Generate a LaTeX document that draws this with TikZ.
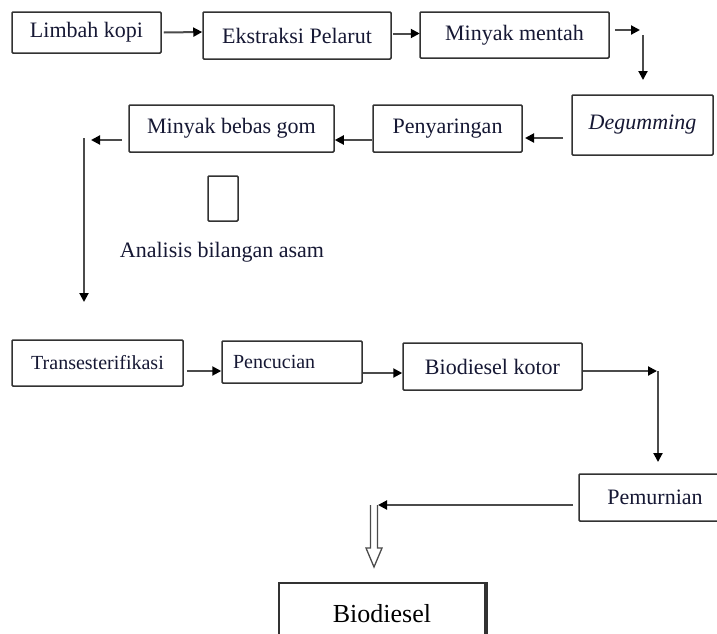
\documentclass[tikz,border=0pt]{standalone}
\usepackage{fontspec}
\setmainfont{Liberation Serif}
\usetikzlibrary{arrows.meta}
\definecolor{txt}{RGB}{22,24,52}
\definecolor{edge}{RGB}{50,50,50}
\definecolor{conn}{RGB}{75,75,75}
\begin{document}
\begin{tikzpicture}[x=1pt,y=-1pt,
  box/.style={draw=edge, line width=1.5pt, rounded corners=1pt, inner sep=0pt,
    text=txt, font=\fontsize{22}{24}\selectfont, fill=white},
  conn/.style={draw=conn, line width=2pt,
    -{Triangle[length=9pt,width=9pt,color=black,fill=black]}}]
\useasboundingbox[fill=white] (0,0) rectangle (717,633);
% row 1
\node[box, minimum width=149pt, minimum height=41pt] (limbah) at (86.5,32.5) {Limbah kopi};
\node[box, minimum width=188pt, minimum height=47pt] (ekstraksi) at (297,35.5) {Ekstraksi Pelarut};
\node[box, minimum width=189pt, minimum height=46pt] (mentah) at (514.5,35) {Minyak mentah};
\node[box, minimum width=141pt, minimum height=60pt, font=\fontsize{22}{24}\selectfont\itshape] (degum) at (642.5,125) {Degumming};
% row 2
\node[box, minimum width=149pt, minimum height=47pt] (saring) at (447.5,128.5) {Penyaringan};
\node[box, minimum width=205pt, minimum height=47pt] (bebas) at (231.5,128.5) {Minyak bebas gom};
\node[box, minimum width=30pt, minimum height=45pt] (small) at (223,198.5) {};
\node[text=txt, font=\fontsize{22}{24}\selectfont, inner sep=0pt] (analisis) at (222,252) {Analisis bilangan asam};
% row 3
\node[box, minimum width=171pt, minimum height=46pt, font=\fontsize{20}{22}\selectfont] (trans) at (97.5,363) {Transesterifikasi};
\node[box, minimum width=140pt, minimum height=42pt, inner xsep=11pt, text width=118pt, align=left, font=\fontsize{20}{22}\selectfont] (cuci) at (292,362) {Pencucian};
\node[box, minimum width=179pt, minimum height=47pt] (kotor) at (492.5,366.5) {Biodiesel kotor};
\node[box, minimum width=152pt, minimum height=47pt] (murni) at (655,497.5) {Pemurnian};
\node[box, minimum width=206pt, minimum height=62pt, line width=2pt, rounded corners=0pt, text=black, font=\fontsize{26}{28}\selectfont] (bio) at (382,614) {Biodiesel};
\draw[line width=3.5pt, edge] (bio.north east) -- (bio.south east);
% coordinates
\coordinate (c1) at (640,30);
\coordinate (c1b) at (643,35);
\coordinate (c2) at (643,80);
\coordinate (c3) at (563,138);
\coordinate (c4) at (525,138);
\coordinate (c5) at (122,140);
\coordinate (c6) at (91,140);
\coordinate (c7) at (84,138);
\coordinate (c8) at (84,302);
\coordinate (c9) at (657,371);
\coordinate (c10) at (658,462);
\coordinate (c11) at (573,505);
\coordinate (c12) at (378,505);
% connectors
\draw[conn] (limbah.east) ++(2,0) -- (ekstraksi.west |- 0,32);
\draw[conn] (ekstraksi.east) ++(1,-2) -- ++(27,0);
\draw[conn] (mentah.east |- c1) ++(5,0) -- (c1);
\draw[conn] (c1b) -- (c2);
\draw[conn] (c3) -- (c4);
\draw[conn] (saring.west |- 0,140) -- (bebas.east |- 0,140);
\draw[conn] (c5) -- (c6);
\draw[conn] (c7) -- (c8);
\draw[conn] (trans.east |- 0,371) ++(3,0) -- (cuci.west |- 0,371);
\draw[conn] (cuci.east |- 0,373) -- (kotor.west |- 0,373);
\draw[conn] (kotor.east |- c9) -- (c9);
\draw[conn] (c9) ++(1,0) -- (c10);
\draw[conn] (c11) -- (c12);
% hollow arrow
\draw[draw=conn, line width=1.3pt, fill=white, line join=miter]
  (370.5,505) -- (370.5,548) -- (366,548) -- (374,567) -- (382,548) -- (377.5,548) -- (377.5,505);
\end{tikzpicture}
\end{document}
